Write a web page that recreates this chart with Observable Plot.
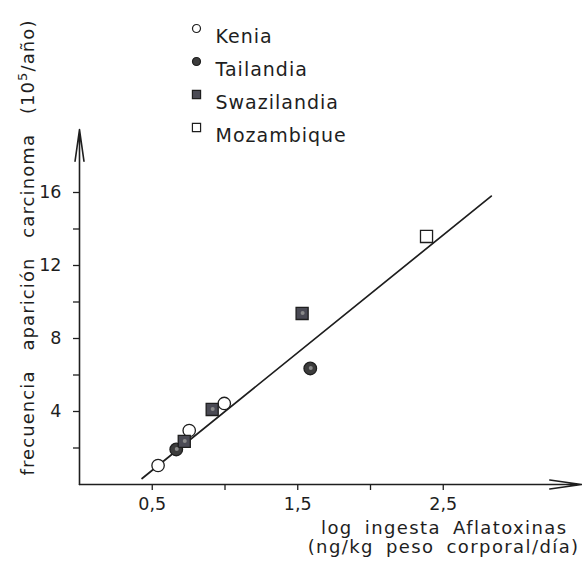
<!DOCTYPE html>
<html><head><meta charset="utf-8">
<script src="https://cdn.jsdelivr.net/npm/d3@7"></script>
<script src="https://cdn.jsdelivr.net/npm/@observablehq/plot@0.6"></script>
<style>
body{margin:0;background:#fff;}
svg{display:block}
svg text{letter-spacing:1px}
</style></head><body><div id="chart"></div>
<script>
const countries = ["Kenia","Tailandia","Swazilandia","Mozambique"];
const keniaX = [0.54, 0.754, 0.995];
const keniaY = [1.04, 2.96, 4.44];
const tailandiaX = [0.665, 1.586];
const tailandiaY = [1.92, 6.36];
const swazilandiaX = [0.72, 0.912, 1.53];
const swazilandiaY = [2.36, 4.11, 9.37];
const mozambiqueX = [2.385];
const mozambiqueY = [13.59];
const fitX = [0.43, 2.83];
const fitY = [0.33, 15.8];
const xTicks = [0.5, 1, 1.5, 2, 2.5];
const xTickLabels = ["0,5", "", "1,5", "", "2,5"];
const yTicks = [2, 4, 6, 8, 10, 12, 14, 16];
const yTickLabels = ["", "4", "", "8", "", "12", "", "16"];
const xAxisEnd = 3.45;
const yAxisEnd = 19.45;
const yLabel = "frecuencia aparición carcinoma (10⁵/año)";
const xLabel1 = "log ingesta Aflatoxinas";
const xLabel2 = "(ng/kg peso corporal/día)";

const ink = "#1e1e1e";
const styles = {
  Kenia:       {symbol: "circle", fill: "#fff",    r: 6.2, lr: 4},
  Tailandia:   {symbol: "circle", fill: "#3c3c3c", r: 6.3, lr: 4},
  Swazilandia: {symbol: "square", fill: "#4a4a54", r: 6.8, lr: 4.6},
  Mozambique:  {symbol: "square", fill: "#fff",    r: 6.8, lr: 4.6}
};
const series = {
  Kenia: [keniaX, keniaY],
  Tailandia: [tailandiaX, tailandiaY],
  Swazilandia: [swazilandiaX, swazilandiaY],
  Mozambique: [mozambiqueX, mozambiqueY]
};
const points = countries.flatMap(c => series[c][0].map((x, i) => ({country: c, x, y: series[c][1][i]})));
const fit = fitX.map((x, i) => ({x, y: fitY[i]}));

const pointMarks = countries.map(c => Plot.dot(points.filter(d => d.country === c), {
  x: "x", y: "y", symbol: styles[c].symbol, r: styles[c].r,
  fill: styles[c].fill, stroke: ink, strokeWidth: 1.3
}));
const textureMarks = ["Tailandia", "Swazilandia"].map(c => Plot.dot(points.filter(d => d.country === c), {
  x: "x", y: "y", r: 2, fill: "#8a8a8a", dx: 0.5, dy: -0.5
}));

const legendMarks = countries.flatMap((c, i) => [
  Plot.dot([c], {frameAnchor: "top-left", dx: 117, dy: 28 + 33 * i, symbol: styles[c].symbol,
    r: styles[c].lr, fill: styles[c].fill, stroke: ink, strokeWidth: 1.2}),
  Plot.text([c], {frameAnchor: "top-left", dx: 136, dy: 29 + 33 * i, text: d => d,
    textAnchor: "start", fontSize: 19, fill: ink})
]);

const chart = Plot.plot({
  width: 582, height: 569,
  marginLeft: 79, marginRight: 0, marginTop: 0, marginBottom: 85,
  style: {fontFamily: "DejaVu Sans", fontSize: "18px", color: ink, background: "#fff"},
  x: {domain: [0, 3.457]},
  y: {domain: [0, 484 / 18.25]},
  marks: [
    Plot.axisY({ticks: yTicks, tickFormat: d => yTickLabels[yTicks.indexOf(d)], tickSize: 6,
      tickPadding: 12, fontSize: 17.5, label: null, strokeWidth: 1.3}),
    Plot.axisX({ticks: xTicks, tickFormat: d => xTickLabels[xTicks.indexOf(d)], tickSize: 6,
      tickPadding: 7, fontSize: 17.5, label: null, strokeWidth: 1.3}),
    Plot.arrow([{x1: 0, y1: 0, x2: xAxisEnd, y2: 0}, {x1: 0, y1: 0, x2: 0, y2: yAxisEnd}],
      {x1: "x1", y1: "y1", x2: "x2", y2: "y2", stroke: ink, strokeWidth: 1.6, headLength: 30, headAngle: 16}),
    Plot.line(fit, {x: "x", y: "y", stroke: ink, strokeWidth: 1.7}),
    ...pointMarks,
    ...textureMarks,
    ...legendMarks,
    Plot.text([yLabel], {frameAnchor: "left", dx: -51, dy: 5, rotate: -90, text: d => d, fontSize: 18,
      textAnchor: "middle", fill: ink}),
    Plot.text([xLabel1], {frameAnchor: "bottom-right", dx: -15, dy: 49, text: d => d, fontSize: 18,
      textAnchor: "end", lineAnchor: "bottom", fill: ink}),
    Plot.text([xLabel2], {frameAnchor: "bottom-right", dx: -3, dy: 68, text: d => d, fontSize: 18,
      textAnchor: "end", lineAnchor: "bottom", fill: ink})
  ]
});
const tickTexts = new Set([...xTickLabels, ...yTickLabels].filter(s => s));
d3.select(chart).selectAll("text").each(function() {
  const el = d3.select(this);
  const t = this.textContent;
  if (tickTexts.has(t)) el.style("letter-spacing", "0px");
  if (t === xLabel1 || t === xLabel2) el.style("word-spacing", "5px").style("letter-spacing", "1.4px");
  if (t === yLabel) {
    const [before, after] = t.split("⁵");
    el.style("word-spacing", "13px").style("letter-spacing", "1.1px").text(null);
    el.append("tspan").text(before);
    el.append("tspan").attr("dy", -7).style("font-size", "13px").text("5");
    el.append("tspan").attr("dy", 7).text(after);
  }
});
document.getElementById("chart").appendChild(chart);
</script>
</body></html>
